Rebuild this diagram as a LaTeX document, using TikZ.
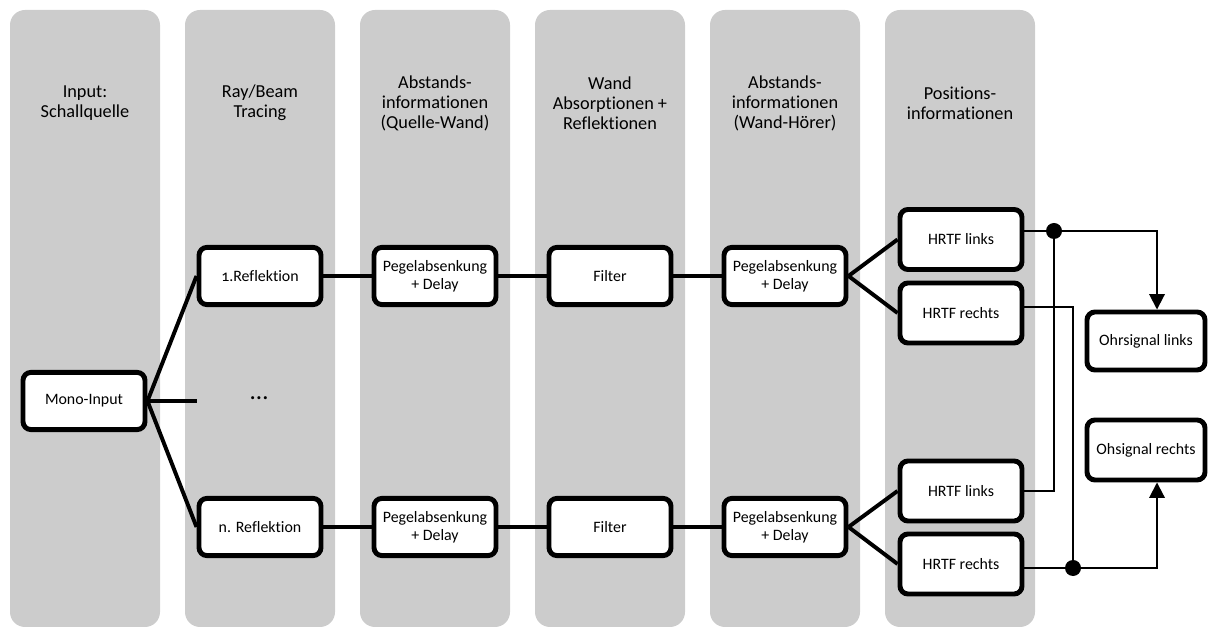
\documentclass[tikz,border=0pt]{standalone}
\usepackage{fontspec}
\setmainfont{Carlito}[Numbers=OldStyle,Ligatures=NoCommon]
\usetikzlibrary{arrows.meta}
\begin{document}
\begin{tikzpicture}[x=0.025cm,y=-0.025cm,
  lane/.style={fill=black!20,rounded corners=0.375cm},
  head node/.style={align=center,font=\fontsize{13}{14.2}\selectfont},
  box node/.style={draw,fill=white,line width=3.5pt,rounded corners=0.2cm,
    align=center,minimum width=3.05cm,minimum height=1.43cm,
    font=\fontsize{11.3}{12.5}\selectfont},
  link/.style={line width=2.8pt},
  thin link/.style={line width=1.4pt}]
  \useasboundingbox (0,0) rectangle (1211,628);

  % lanes with headers
  \foreach \x/\t in {85/{Input:\\Schallquelle},260/{Ray/Beam\\Tracing},
      435/{Abstands-\\informationen\\(Quelle-Wand)},610/{Wand\\Absorptionen +\\Reflektionen},
      785/{Abstands-\\informationen\\(Wand-Hörer)},960/{Positions-\\informationen}} {
    \fill[lane] (\x-75,10) rectangle (\x+75,627);
    \node[head node] at (\x,103) {\t};
  }

  \node[box node] (mono) at (84,401) {Mono-Input};
  \node[box node] (r1) at (260,276) {1.Reflektion};
  \node[box node] (rn) at (260,527) {n. Reflektion};
  \node[box node] (pq1) at (435,276) {Pegelabsenkung\\+ Delay};
  \node[box node] (pqn) at (435,527) {Pegelabsenkung\\+ Delay};
  \node[box node] (f1) at (610,276) {Filter};
  \node[box node] (fn) at (610,527) {Filter};
  \node[box node] (pw1) at (785,276) {Pegelabsenkung\\+ Delay};
  \node[box node] (pwn) at (785,527) {Pegelabsenkung\\+ Delay};
  \node[box node,minimum height=1.5cm] (hl1) at (961,239.5) {HRTF links};
  \node[box node,minimum height=1.5cm] (hr1) at (961,313) {HRTF rechts};
  \node[box node,minimum height=1.5cm] (hl2) at (961,491) {HRTF links};
  \node[box node,minimum height=1.5cm] (hr2) at (961,564) {HRTF rechts};
  \node[box node,minimum width=2.95cm,minimum height=1.45cm] (ol) at (1146,341) {Ohrsignal links};
  \node[box node,minimum width=2.95cm,minimum height=1.5cm] (or) at (1146,450) {Ohsignal rechts};

  \node[font=\fontsize{18}{18}\selectfont] (dots) at (259,398) {\dots};
  \coordinate (mid) at (197,401);
  \coordinate (d1) at (1054,231);
  \coordinate (d2) at (1073,568);

  \path[link]
   (mono.east) edge (r1.west)
   (mono.east) edge (mid)
   (mono.east) edge (rn.west)
   (r1) edge (pq1)
   (pq1) edge (f1)
   (f1) edge (pw1)
   (rn) edge (pqn)
   (pqn) edge (fn)
   (fn) edge (pwn)
   (pw1.east) edge (hl1.west)
   (pw1.east) edge (hr1.west)
   (pwn.east) edge (hl2.west)
   (pwn.east) edge (hr2.west);

  \draw[thin link,-{Triangle[width=11pt,length=11pt]}] (hl1.east |- d1) -- (d1) -| ([xshift=0.275cm]ol.north);
  \draw[thin link] (hl2.east) -| (d1);
  \draw[thin link] ([yshift=0.15cm]hr1.east) -| (d2);
  \draw[thin link,-{Triangle[width=11pt,length=11pt]}] (hr2.east |- d2) -- (d2) -| ([xshift=0.275cm]or.south);
  \fill (d1) circle (0.2cm);
  \fill (d2) circle (0.2cm);
\end{tikzpicture}
\end{document}
